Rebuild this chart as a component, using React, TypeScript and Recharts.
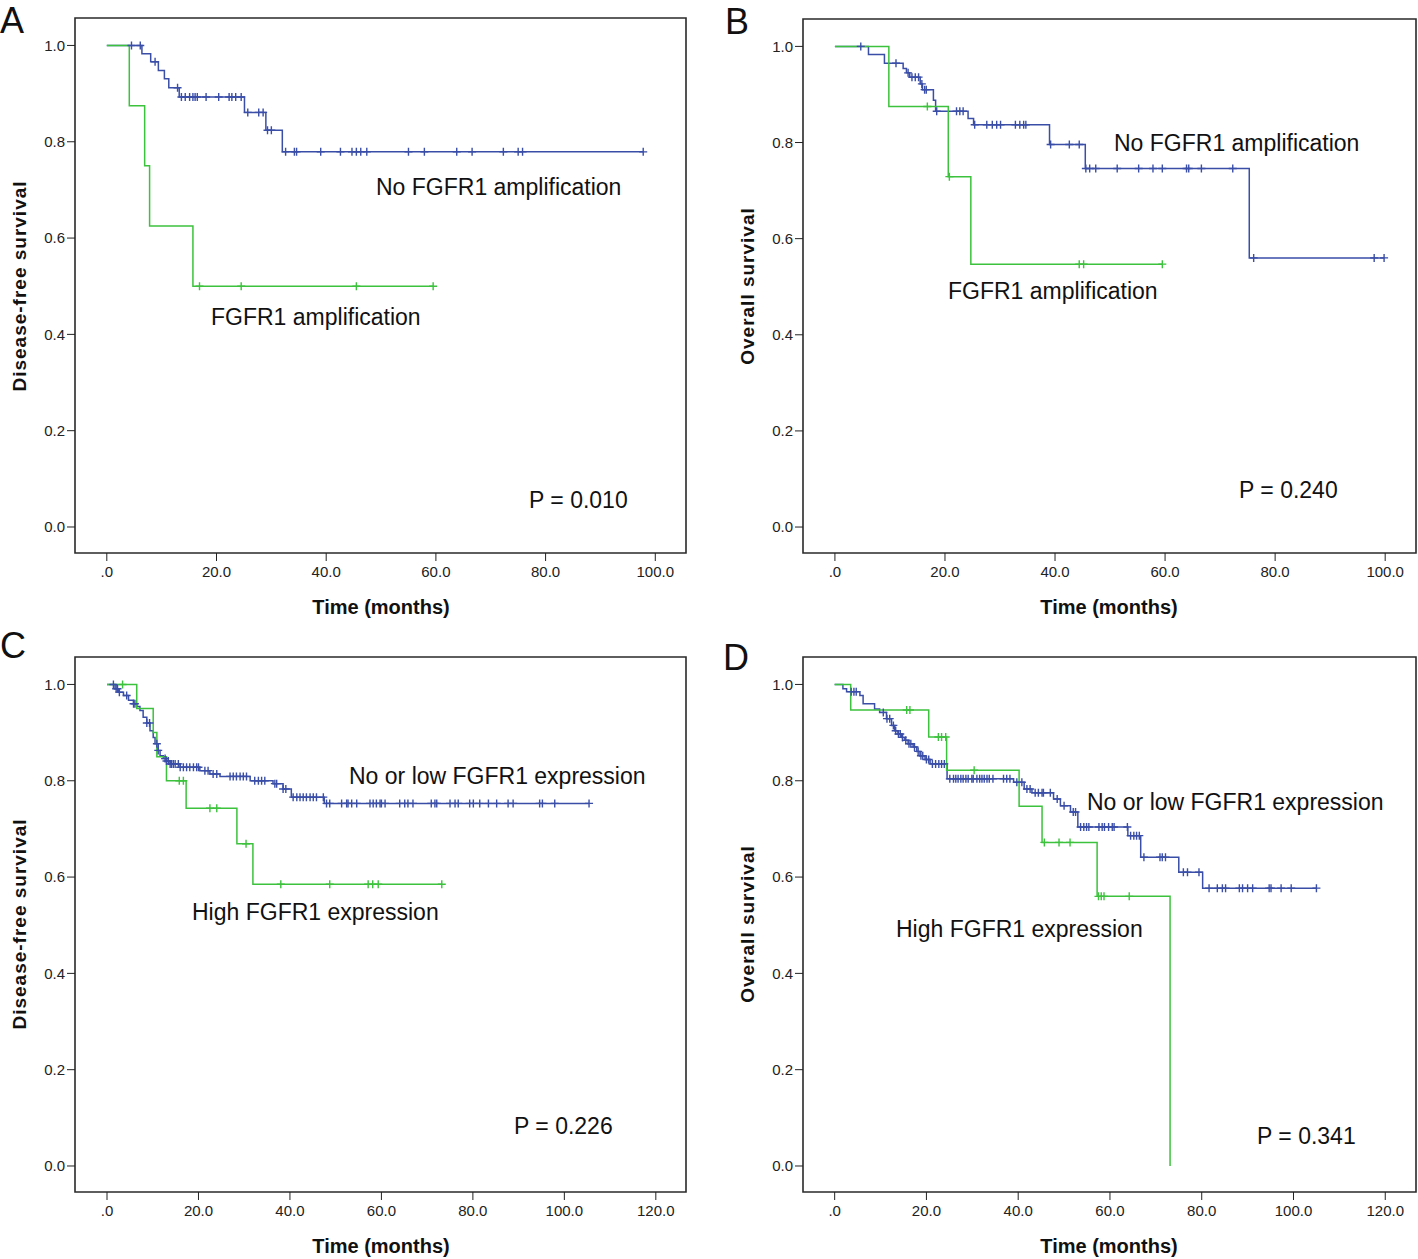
import React from "react";
import { ComposedChart, Line, Scatter, XAxis, YAxis, ReferenceArea } from "recharts";

const BLUE = "#3a4ea8";
const GREEN = "#3cc23c";
const INK = "#222";
const FONT = '"Liberation Sans", Arial, Helvetica, sans-serif';

const Y_DOMAIN = [-0.054, 1.057];
const Y_TICKS = [0, 0.2, 0.4, 0.6, 0.8, 1.0];
const X_TICKS_100 = [0, 20, 40, 60, 80, 100];
const X_TICKS_120 = [0, 20, 40, 60, 80, 100, 120];

// A: disease-free survival, FGFR1 amplification
const aNoAmpT = [0, 6.4, 8.0, 9.4, 10.5, 11.3, 13.2, 25.1, 29.0, 32.0, 97.8];
const aNoAmpS = [1, 0.983, 0.966, 0.948, 0.931, 0.912, 0.893, 0.861, 0.824, 0.779, 0.779];
const aNoAmpCens = [4.5, 6.1, 8.8, 12.9, 13.6, 14.3, 15.1, 15.7, 16.1, 16.5, 18.1, 20.4, 22.3, 22.8, 23.5, 24.5, 25.7, 27.7, 28.5, 29.3, 30.0, 32.6, 34.2, 34.6, 39.0, 42.6, 44.7, 45.5, 46.3, 47.4, 55.0, 57.9, 63.8, 66.6, 72.3, 75.0, 75.8, 97.8];
const aAmpT = [0, 4.1, 6.9, 7.8, 15.7, 59.5];
const aAmpS = [1, 0.875, 0.75, 0.625, 0.5, 0.5];
const aAmpCens = [16.9, 24.5, 45.5, 59.5];

// B: overall survival, FGFR1 amplification
const bNoAmpT = [0, 6.1, 9.0, 12.4, 13.0, 13.6, 15.5, 15.9, 17.9, 18.3, 24.2, 25.2, 39.0, 45.5, 75.3, 99.8];
const bNoAmpS = [1, 0.983, 0.965, 0.954, 0.945, 0.936, 0.922, 0.91, 0.888, 0.865, 0.85, 0.837, 0.796, 0.746, 0.56, 0.56];
const bNoAmpCens = [4.7, 11.1, 13.3, 14.0, 14.6, 15.2, 15.8, 16.3, 16.6, 18.5, 22.1, 22.7, 23.3, 25.4, 27.6, 28.6, 29.4, 30.1, 32.8, 33.6, 34.3, 34.7, 39.2, 42.6, 44.4, 45.6, 46.3, 47.4, 51.3, 55.2, 57.8, 59.5, 63.9, 64.3, 66.6, 72.3, 76.1, 98.0, 99.8];
const bAmpT = [0, 9.8, 20.6, 24.7, 59.5];
const bAmpS = [1, 0.875, 0.729, 0.547, 0.547];
const bAmpCens = [16.8, 20.8, 44.4, 45.2, 59.5];

// C: disease-free survival, FGFR1 expression
const cLowT = [0, 1.75, 2.5, 3.6, 4.7, 5.8, 6.5, 7.2, 7.9, 8.7, 9.4, 10.1, 10.5, 11.2, 11.6, 12.3, 13.0, 13.8, 16.0, 20.3, 22.5, 24.7, 31.3, 36.3, 38.5, 40.3, 47.5, 105.4];
const cLowS = [1, 0.991, 0.984, 0.977, 0.967, 0.96, 0.954, 0.946, 0.932, 0.92, 0.904, 0.89, 0.877, 0.863, 0.852, 0.846, 0.841, 0.835, 0.828, 0.821, 0.814, 0.809, 0.8, 0.794, 0.783, 0.766, 0.753, 0.753];
const cLowCens = [1.4, 2.0, 2.3, 2.7, 4.3, 5.8, 6.1, 8.7, 9.3, 10.9, 11.2, 12.7, 13.0, 13.4, 13.8, 14.1, 14.5, 14.9, 15.6, 16.0, 16.7, 17.4, 18.1, 18.9, 19.6, 20.0, 21.4, 22.1, 23.2, 24.0, 26.9, 27.6, 28.3, 29.1, 29.8, 30.5, 32.3, 33.1, 33.8, 34.5, 36.7, 37.1, 38.5, 39.1, 40.7, 41.5, 42.2, 42.9, 43.6, 44.4, 45.1, 45.8, 47.3, 48.0, 48.7, 51.3, 52.4, 52.7, 53.5, 54.6, 57.5, 58.2, 58.9, 59.7, 60.0, 60.8, 64.0, 65.1, 65.8, 66.9, 70.9, 71.7, 72.1, 75.0, 76.1, 76.8, 79.3, 80.1, 81.5, 83.4, 85.2, 87.7, 88.8, 94.6, 95.2, 97.9, 105.4];
const cHighT = [0, 6.5, 10.1, 10.9, 13.0, 17.3, 28.4, 31.9, 73.2];
const cHighS = [1, 0.95, 0.9, 0.85, 0.8, 0.743, 0.669, 0.585, 0.585];
const cHighCens = [3.4, 15.8, 16.7, 22.5, 24.0, 30.4, 38.0, 48.7, 57.1, 58.1, 59.3, 73.2];

// D: overall survival, FGFR1 expression
const dLowT = [0, 1.8, 2.6, 5.5, 6.2, 8.7, 9.8, 11.3, 12.4, 13.1, 13.8, 14.6, 15.3, 16.0, 17.1, 17.9, 18.6, 19.7, 20.8, 24.5, 39.0, 41.3, 43.0, 47.7, 49.2, 51.4, 53.0, 63.9, 66.7, 75.0, 80.2, 105.0];
const dLowS = [1, 0.991, 0.985, 0.977, 0.96, 0.949, 0.942, 0.929, 0.915, 0.904, 0.897, 0.89, 0.884, 0.877, 0.87, 0.861, 0.852, 0.844, 0.835, 0.804, 0.797, 0.783, 0.775, 0.762, 0.748, 0.735, 0.704, 0.686, 0.641, 0.61, 0.577, 0.577];
const dLowCens = [3.6, 4.2, 4.7, 10.6, 11.4, 12.0, 12.8, 13.3, 13.9, 14.3, 14.8, 15.5, 16.2, 16.6, 17.4, 18.2, 18.8, 19.2, 20.0, 20.5, 21.3, 22.0, 22.7, 23.3, 23.9, 25.1, 25.9, 26.4, 26.9, 27.5, 28.0, 28.6, 29.1, 29.9, 30.2, 31.0, 31.6, 32.1, 32.6, 33.2, 33.7, 34.5, 36.8, 37.5, 38.2, 39.7, 40.8, 41.9, 42.6, 43.7, 44.4, 45.2, 45.5, 47.0, 48.5, 50.0, 52.0, 52.5, 53.6, 54.3, 54.9, 55.4, 57.6, 58.3, 58.8, 59.7, 60.5, 60.9, 63.8, 64.5, 65.2, 65.8, 66.4, 67.4, 70.9, 71.4, 72.1, 76.0, 76.9, 79.4, 81.6, 83.4, 84.5, 85.2, 88.2, 88.9, 90.0, 91.1, 94.7, 95.1, 97.3, 99.5, 105.0];
const dHighT = [0, 3.5, 20.5, 24.4, 40.2, 45.2, 57.2, 73.1];
const dHighS = [1, 0.947, 0.891, 0.822, 0.747, 0.672, 0.56, 0];
const dHighCens = [15.7, 16.4, 22.6, 23.3, 24.2, 30.4, 45.7, 48.9, 51.3, 57.5, 58.1, 58.7, 64.2];

function steps(t: number[], s: number[]) {
  return t.map((v, i) => ({ t: v, s: s[i] }));
}

// censor marks sit on the curve at their time
function censors(t: number[], s: number[], c: number[]) {
  return c.map((ct) => {
    let v = s[0];
    for (let i = 0; i < t.length; i++) if (t[i] <= ct) v = s[i];
    return { t: ct, s: v };
  });
}

const plus = (color: string) => (props: any) => {
  const { cx, cy } = props;
  if (cx == null || cy == null) return <g />;
  return (
    <path
      d={`M${cx - 4},${cy}H${cx + 4}M${cx},${cy - 4}V${cy + 4}`}
      stroke={color}
      strokeWidth={1.4}
      fill="none"
    />
  );
};

const fmtX = (v: number) => (v === 0 ? ".0" : v.toFixed(1));

function KMPanel({ p }: any) {
  const blue = steps(p.blue[0], p.blue[1]);
  const green = steps(p.green[0], p.green[1]);
  const blueC = censors(p.blue[0], p.blue[1], p.blue[2]);
  const greenC = censors(p.green[0], p.green[1], p.green[2]);
  return (
    <div style={{ position: "absolute", left: p.left, top: p.top }}>
      <ComposedChart width={p.width} height={p.height} margin={p.margin}>
        <XAxis
          type="number"
          dataKey="t"
          domain={p.xDomain}
          ticks={p.xTicks}
          allowDataOverflow
          tickFormatter={fmtX}
          tick={{ fill: INK, fontSize: 15, fontFamily: FONT }}
          tickSize={8}
          tickMargin={5}
          axisLine={false}
          tickLine={{ stroke: INK }}
          height={40}
        />
        <YAxis
          type="number"
          dataKey="s"
          domain={Y_DOMAIN}
          ticks={Y_TICKS}
          allowDataOverflow
          tickFormatter={(v: number) => v.toFixed(1)}
          tick={{ fill: INK, fontSize: 15, fontFamily: FONT }}
          tickSize={8}
          tickMargin={2}
          axisLine={false}
          tickLine={{ stroke: INK }}
          width={p.yWidth}
        />
        <ReferenceArea
          x1={p.xDomain[0]}
          x2={p.xDomain[1]}
          y1={Y_DOMAIN[0]}
          y2={Y_DOMAIN[1]}
          fill="none"
          stroke="#2a2a2a"
          strokeWidth={1.6}
          ifOverflow="visible"
        />
        <Line data={blue} dataKey="s" type="stepAfter" stroke={BLUE} strokeWidth={1.5} dot={false} isAnimationActive={false} />
        <Line data={green} dataKey="s" type="stepAfter" stroke={GREEN} strokeWidth={1.5} dot={false} isAnimationActive={false} />
        <Scatter data={blueC} dataKey="s" shape={plus(BLUE)} isAnimationActive={false} />
        <Scatter data={greenC} dataKey="s" shape={plus(GREEN)} isAnimationActive={false} />
      </ComposedChart>
    </div>
  );
}

const panels = [
  {
    letter: "A", lx: 0, ly: 3,
    left: 0, top: 0, width: 700, height: 630,
    margin: { top: 18, right: 14, bottom: 37, left: 0 }, yWidth: 75,
    xDomain: [-5.8, 105.6], xTicks: X_TICKS_100,
    blue: [aNoAmpT, aNoAmpS, aNoAmpCens], green: [aAmpT, aAmpS, aAmpCens],
    yTitle: "Disease-free survival", ytx: 19, yty: 286, xtx: 381, xty: 607,
    notes: [
      { text: "No FGFR1 amplification", x: 376, cy: 187 },
      { text: "FGFR1 amplification", x: 211, cy: 317 },
      { text: "P = 0.010", x: 529, cy: 500 },
    ],
  },
  {
    letter: "B", lx: 725, ly: 4,
    left: 709, top: 0, width: 709, height: 630,
    margin: { top: 19, right: 2, bottom: 37, left: 0 }, yWidth: 94,
    xDomain: [-5.8, 105.6], xTicks: X_TICKS_100,
    blue: [bNoAmpT, bNoAmpS, bNoAmpCens], green: [bAmpT, bAmpS, bAmpCens],
    yTitle: "Overall survival", ytx: 747, yty: 286, xtx: 1109, xty: 607,
    notes: [
      { text: "No FGFR1 amplification", x: 1114, cy: 143 },
      { text: "FGFR1 amplification", x: 948, cy: 291 },
      { text: "P = 0.240", x: 1239, cy: 490 },
    ],
  },
  {
    letter: "C", lx: 0, ly: 628,
    left: 0, top: 630, width: 700, height: 629,
    margin: { top: 27, right: 14, bottom: 27, left: 0 }, yWidth: 75,
    xDomain: [-7.0, 126.6], xTicks: X_TICKS_120,
    blue: [cLowT, cLowS, cLowCens], green: [cHighT, cHighS, cHighCens],
    yTitle: "Disease-free survival", ytx: 19, yty: 924, xtx: 381, xty: 1246,
    notes: [
      { text: "No or low FGFR1 expression", x: 349, cy: 776 },
      { text: "High FGFR1 expression", x: 192, cy: 912 },
      { text: "P = 0.226", x: 514, cy: 1126 },
    ],
  },
  {
    letter: "D", lx: 723, ly: 640,
    left: 709, top: 630, width: 709, height: 629,
    margin: { top: 27, right: 2, bottom: 27, left: 0 }, yWidth: 94,
    xDomain: [-6.9, 126.7], xTicks: X_TICKS_120,
    blue: [dLowT, dLowS, dLowCens], green: [dHighT, dHighS, dHighCens],
    yTitle: "Overall survival", ytx: 747, yty: 924, xtx: 1109, xty: 1246,
    notes: [
      { text: "No or low FGFR1 expression", x: 1087, cy: 802 },
      { text: "High FGFR1 expression", x: 896, cy: 929 },
      { text: "P = 0.341", x: 1257, cy: 1136 },
    ],
  },
];

const textBase: React.CSSProperties = {
  position: "absolute",
  fontFamily: FONT,
  lineHeight: 1,
  whiteSpace: "nowrap",
  color: "#111",
};

export default function App() {
  return (
    <div style={{ position: "absolute", left: 0, top: 0, width: 1418, height: 1259, background: "#fff", overflow: "hidden" }}>
      {panels.map((p) => (
        <React.Fragment key={p.letter}>
          <KMPanel p={p} />
          <div style={{ ...textBase, left: p.lx, top: p.ly, fontSize: 36 }}>{p.letter}</div>
          <div
            style={{
              ...textBase,
              left: p.ytx,
              top: p.yty,
              fontSize: 19,
              letterSpacing: 1,
              fontWeight: "bold",
              transform: "translate(-50%, -50%) rotate(-90deg)",
            }}
          >
            {p.yTitle}
          </div>
          <div
            style={{
              ...textBase,
              left: p.xtx,
              top: p.xty,
              fontSize: 20,
              fontWeight: "bold",
              transform: "translate(-50%, -50%)",
            }}
          >
            Time (months)
          </div>
          {p.notes.map((n) => (
            <div key={n.text} style={{ ...textBase, left: n.x, top: n.cy - 11, fontSize: 23 }}>
              {n.text}
            </div>
          ))}
        </React.Fragment>
      ))}
    </div>
  );
}
